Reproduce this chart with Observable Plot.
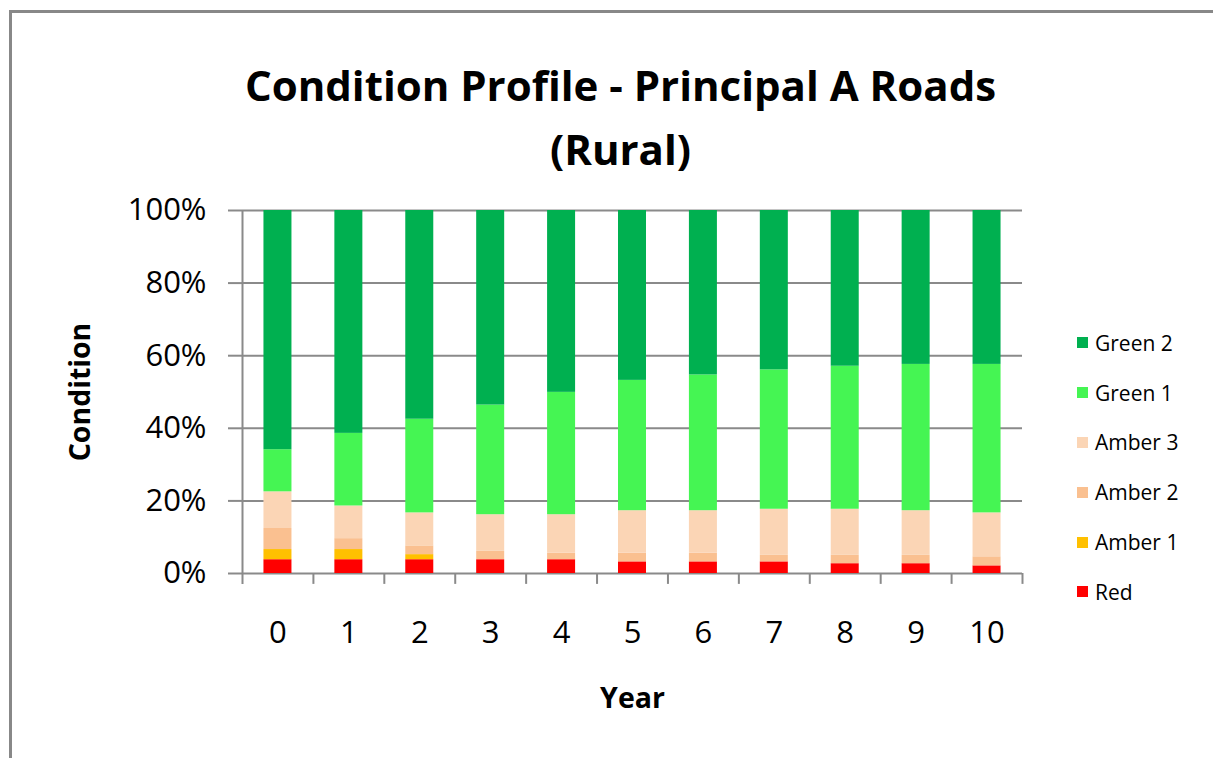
<!DOCTYPE html>
<html><head><meta charset="utf-8">
<script src="https://cdn.jsdelivr.net/npm/d3@7"></script>
<script src="https://cdn.jsdelivr.net/npm/@observablehq/plot@0.6"></script>
<style>
body{margin:0;background:#fff;overflow:hidden}
#wrap{position:relative;width:1213px;height:758px;overflow:hidden;font-family:"Open Sans",sans-serif;color:#000}
#border{position:absolute;left:9px;top:10px;width:1400px;height:900px;border-top:3px solid #888;border-left:3px solid #888}
#title{position:absolute;left:0;top:53px;width:1241px;text-align:center;font-weight:700;font-size:42px;line-height:64px}
#chart{position:absolute;left:0;top:0}
#legend{position:absolute;left:1077px;top:318px}
.item{display:flex;align-items:center;height:49.8px;font-size:21px}
.sw{width:11px;height:11px;margin-right:7px;flex:none}
</style></head>
<body>
<div id="wrap">
  <div id="border"></div>
  <div id="title">Condition Profile - Principal A Roads<br>(Rural)</div>
  <div id="chart"></div>
  <div id="legend"></div>
</div>
<script>
const years = ["0","1","2","3","4","5","6","7","8","9","10"];
const categories = ["Red","Amber 1","Amber 2","Amber 3","Green 1","Green 2"];
const colors = ["#FF0000","#FFC000","#FAC090","#FBD5B5","#45F553","#00B050"];
const yTicks = [0,20,40,60,80,100];

// percentage of network in each condition band, per year
const red    = [3.8, 3.8, 3.8, 3.8, 3.8, 3.2, 3.2, 3.2, 2.7, 2.7, 2.1];
const amber1 = [2.8, 2.8, 1.4, 0.0, 0.0, 0.0, 0.0, 0.0, 0.0, 0.0, 0.0];
const amber2 = [5.8, 3.0, 2.4, 2.3, 1.8, 2.4, 2.4, 1.8, 2.3, 2.3, 2.5];
const amber3 = [10.1, 9.0, 9.1, 10.1, 10.6, 11.7, 11.7, 12.7, 12.7, 12.3, 12.1];
const green1 = [11.6, 20.0, 25.8, 30.2, 33.7, 35.9, 37.4, 38.4, 39.4, 40.3, 40.9];
const green2 = [65.9, 61.4, 57.5, 53.6, 50.1, 46.8, 45.3, 43.9, 42.9, 42.4, 42.4];

const series = [red, amber1, amber2, amber3, green1, green2];
const table = [];
categories.forEach((c, k) => years.forEach((y, i) => table.push({year: y, category: c, value: series[k][i]})));

const W = 1213, H = 758, mL = 242, mR = 191, mT = 210, mB = 185;
const step = (W - mL - mR) / years.length;
const barW = 28;
const inset = (step - barW) / 2;
const axisColor = "#8a8a8a";

const chart = Plot.plot({
  width: W, height: H,
  marginLeft: mL, marginRight: mR, marginTop: mT, marginBottom: mB,
  style: {fontFamily: "Open Sans", fontSize: "31px", color: "#000", background: "transparent", overflow: "visible"},
  x: {domain: years, padding: 0, round: false, label: null, axis: null},
  y: {domain: [0, 100], label: null, axis: null},
  color: {domain: categories, range: colors},
  marks: [
    Plot.gridY(yTicks, {stroke: axisColor, strokeOpacity: 1, strokeWidth: 2}),
    Plot.barY(table, {x: "year", y: "value", fill: "category", order: categories, insetLeft: inset, insetRight: inset}),
    Plot.axisY(yTicks, {tickSize: 14, tickPadding: 22, tickFormat: d => d + "%", stroke: axisColor, strokeWidth: 2, fontSize: 31, fill: "#000"}),
    Plot.axisX({tickSize: 0, tickPadding: 47, fontSize: 31, fill: "#000"}),
    Plot.ruleX([years[0]], {x: d => d, dx: -step / 2, y1: -3, y2: 100, stroke: axisColor, strokeWidth: 2}),
    Plot.ruleX(years.slice(1), {x: d => d, dx: -step / 2, y1: -3, y2: 0, stroke: axisColor, strokeWidth: 2}),
    Plot.ruleX([years[years.length - 1]], {x: d => d, dx: step / 2, y1: -3, y2: 0, stroke: axisColor, strokeWidth: 2}),
    Plot.text(["Condition"], {text: d => d, frameAnchor: "left", dx: -162, rotate: -90, textAnchor: "middle", lineAnchor: "middle", fontSize: 28.5, fontWeight: "bold", fill: "#000"}),
    Plot.text(["Year"], {text: d => d, frameAnchor: "bottom", dy: 125, textAnchor: "middle", lineAnchor: "middle", fontSize: 28.5, fontWeight: "bold", fill: "#000"})
  ]
});
document.getElementById("chart").appendChild(chart);

const legend = document.getElementById("legend");
categories.slice().reverse().forEach(c => {
  const row = document.createElement("div");
  row.className = "item";
  const sw = document.createElement("div");
  sw.className = "sw";
  sw.style.background = colors[categories.indexOf(c)];
  const lab = document.createElement("span");
  lab.textContent = c;
  row.appendChild(sw); row.appendChild(lab);
  legend.appendChild(row);
});
</script>
</body></html>
